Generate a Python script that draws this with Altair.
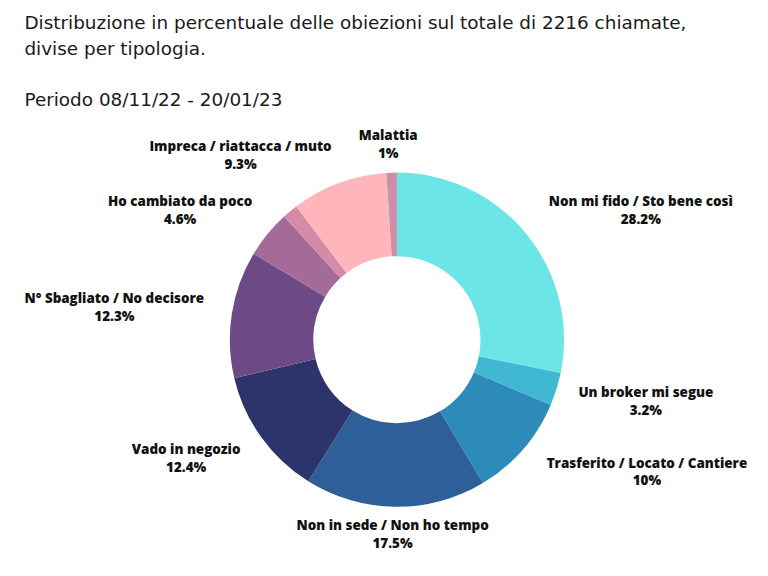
import math

import altair as alt
import pandas as pd

# Objection categories, clockwise from 12 o'clock
categorie = [
    "Non mi fido / Sto bene così",
    "Un broker mi segue",
    "Trasferito / Locato / Cantiere",
    "Non in sede / Non ho tempo",
    "Vado in negozio",
    "N° Sbagliato / No decisore",
    "Ho cambiato da poco",
    "Altro",
    "Impreca / riattacca / muto",
    "Malattia",
]
percentuali = [28.2, 3.2, 10, 17.5, 12.4, 12.3, 4.6, 1.5, 9.3, 1]
con_etichetta = [True, True, True, True, True, True, True, False, True, True]
colori = [
    "#6ce5e8", "#40b7d3", "#2d8bba", "#2e5f98", "#2d336b",
    "#6d4a85", "#a46a98", "#d38ba8", "#feb6bb", "#cc8fa8",
]

W, H = 736, 450
R_OUT, R_IN = 168, 84
# the donut sits at data (0, 0); x/y scales are 1 unit = 1 px
x_scale = alt.Scale(domain=[-371, W - 371])
y_scale = alt.Scale(domain=[227 - H, 227])

df = pd.DataFrame({
    "categoria": categorie,
    "pct": percentuali,
    "ordine": range(len(categorie)),
    "mostra": con_etichetta,
})

# label placement: anchor on an ellipse at the slice mid-angle, then push the
# text block outward so its nearest corner sits on that ellipse
RX, RY = 198, 182
mid = (df["pct"].cumsum() - df["pct"] / 2) / 100 * 2 * math.pi
df["testo"] = df["categoria"] + "\n" + df["pct"].map(lambda v: f"{v:g}%")
larghezza = df["testo"].map(lambda t: max(len(s) for s in t.split("\n")) * 6.8)
kx = (mid.map(math.sin) * 3).clip(-1, 1)
ky = (mid.map(math.cos) * 2).clip(-1, 1)
df["lx"] = RX * mid.map(math.sin) + kx * larghezza / 2
df["ly"] = RY * mid.map(math.cos) + ky * 14

ciambella = alt.Chart(df).mark_arc(innerRadius=R_IN, outerRadius=R_OUT, strokeWidth=0).encode(
    x=alt.X(datum=0, scale=x_scale, axis=None),
    y=alt.Y(datum=0, scale=y_scale, axis=None),
    theta=alt.Theta("pct:Q", stack=True),
    order=alt.Order("ordine:Q"),
    color=alt.Color("categoria:N", scale=alt.Scale(domain=categorie, range=colori), legend=None),
)

etichette = alt.Chart(df).transform_filter("datum.mostra").mark_text(
    font="Open Sans", fontSize=13.5, fontWeight=800, color="#111",
    lineBreak="\n", lineHeight=18, align="center", baseline="middle", dy=-9,
).encode(
    x=alt.X("lx:Q", scale=x_scale, axis=None),
    y=alt.Y("ly:Q", scale=y_scale, axis=None),
    text="testo:N",
)

chart = (ciambella + etichette).properties(
    width=W,
    height=H,
    padding={"left": 16, "top": 5, "right": 0, "bottom": 0},
    background="white",
    title=alt.TitleParams(
        text=[
            "Distribuzione in percentuale delle obiezioni sul totale di 2216 chiamate,",
            "divise per tipologia.",
        ],
        subtitle="Periodo 08/11/22 - 20/01/23",
        anchor="start",
        font="DejaVu Sans",
        fontSize=18.5,
        fontWeight="normal",
        color="#1a1a1a",
        lineHeight=26,
        subtitleFont="DejaVu Sans",
        subtitleFontSize=18.5,
        subtitleColor="#1a1a1a",
        subtitlePadding=33,
    ),
).configure_view(strokeWidth=0)

chart.save("out.html", embed_options={"renderer": "svg", "actions": False})
